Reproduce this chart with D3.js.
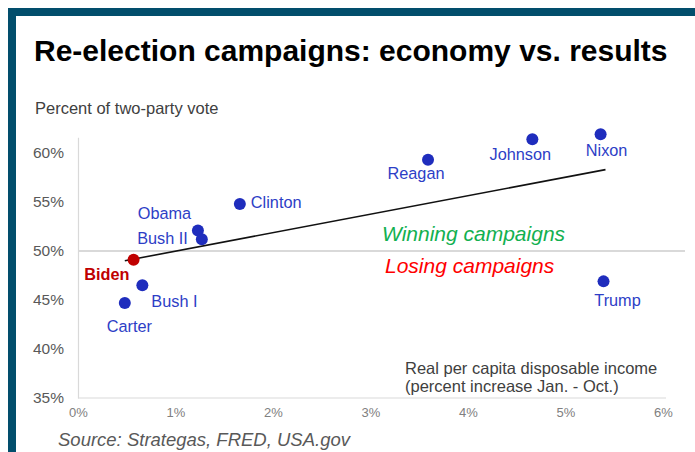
<!DOCTYPE html>
<html>
<head>
<meta charset="utf-8">
<script src="https://cdn.jsdelivr.net/npm/d3@7"></script>
<style>
  html, body { margin: 0; padding: 0; background: #ffffff; }
  svg { display: block; font-family: "Liberation Sans", Arial, sans-serif; }
</style>
</head>
<body>
<svg id="chart" width="695" height="452"></svg>
<script>
// Re-election campaigns: income growth in the election year vs. incumbent's share of the two-party vote
const candidates = ["Nixon", "Johnson", "Reagan", "Clinton", "Obama", "Bush II", "Biden", "Bush I", "Carter", "Trump"];
const incomeGrowth = [5.36, 4.66, 3.59, 1.66, 1.23, 1.27, 0.57, 0.66, 0.48, 5.39];   // % increase Jan.-Oct.
const voteShare    = [61.9, 61.4, 59.3, 54.8, 52.1, 51.2, 49.1, 46.5, 44.7, 46.9];   // % of two-party vote
const trendGrowth  = [0.48, 5.41];
const trendVote    = [49.0, 58.3];
const xTicks = [0, 1, 2, 3, 4, 5, 6];
const yTicks = [35, 40, 45, 50, 55, 60];
const threshold = 50;

// label placement relative to each dot
const labelLayout = {
  "Nixon":   { dx: 6,    dy: 16,   anchor: "middle" },
  "Johnson": { dx: -12,  dy: 15,   anchor: "middle" },
  "Reagan":  { dx: -12,  dy: 13.5, anchor: "middle" },
  "Clinton": { dx: 11,   dy: -2,   anchor: "start" },
  "Obama":   { dx: -33.5,dy: -17,  anchor: "middle" },
  "Bush II": { dx: -14,  dy: -1,   anchor: "end" },
  "Biden":   { dx: -4,   dy: 14.5, anchor: "end" },
  "Bush I":  { dx: 9,    dy: 16,   anchor: "start" },
  "Carter":  { dx: 4.5,  dy: 23,   anchor: "middle" },
  "Trump":   { dx: 14,   dy: 18.5, anchor: "middle" }
};

const svg = d3.select("#chart");
const W = 695, H = 452;
const frameColor = "#024e6c";
const dotBlue = "#1f2dbd", labelBlue = "#2d3ec6", bidenRed = "#c00000";

// frame bands
svg.append("rect").attr("x", 8).attr("y", 8).attr("width", W - 8).attr("height", 8).attr("fill", frameColor);
svg.append("rect").attr("x", 8).attr("y", 8).attr("width", 8).attr("height", H - 8).attr("fill", frameColor);

// title
svg.append("text")
  .attr("x", 34).attr("y", 61)
  .attr("font-size", 30).attr("font-weight", "bold").attr("fill", "#000")
  .text("Re-election campaigns: economy vs. results");

// y-axis heading
svg.append("text")
  .attr("x", 35).attr("y", 108.3).attr("dy", "0.35em")
  .attr("font-size", 16.5).attr("fill", "#404040")
  .text("Percent of two-party vote");

const x = d3.scaleLinear().domain([0, 6]).range([78, 663]);
const y = d3.scaleLinear().domain([35, 61.6]).range([398, 137.3]);

// y axis
const yAxis = svg.append("g").attr("transform", `translate(${x(0)},0)`)
  .call(d3.axisLeft(y).tickValues(yTicks).tickFormat(d => d + "%").tickSize(0).tickPadding(14));
yAxis.select(".domain").attr("stroke", "#d9d9d9").attr("stroke-width", 1.2);
yAxis.selectAll("text").attr("font-size", 15.5).attr("fill", "#595959").attr("font-family", "Liberation Sans, Arial, sans-serif");

// x axis
const xAxis = svg.append("g").attr("transform", `translate(0,${y(35)})`)
  .call(d3.axisBottom(x).tickValues(xTicks).tickFormat(d => d + "%").tickSize(0).tickPadding(10));
xAxis.select(".domain").attr("stroke", "#d9d9d9").attr("stroke-width", 1.2)
  .attr("d", `M${x(0)},0H${x(6) + 3}`);
xAxis.selectAll("text").attr("font-size", 13).attr("fill", "#808080").attr("font-family", "Liberation Sans, Arial, sans-serif");

// 50% threshold line
svg.append("line")
  .attr("x1", x(0)).attr("x2", x(6) + 22)
  .attr("y1", y(threshold)).attr("y2", y(threshold))
  .attr("stroke", "#d9d9d9").attr("stroke-width", 2.2);

svg.append("text")
  .attr("x", 382).attr("y", y(threshold) - 17).attr("dy", "0.35em")
  .attr("font-size", 21).attr("font-style", "italic").attr("fill", "#12b050")
  .text("Winning campaigns");
svg.append("text")
  .attr("x", 385).attr("y", y(threshold) + 14.5).attr("dy", "0.35em")
  .attr("font-size", 21).attr("font-style", "italic").attr("fill", "#ff0000")
  .text("Losing campaigns");

// x-axis description
const desc = svg.append("text").attr("font-size", 16.5).attr("fill", "#404040");
desc.append("tspan").attr("x", 405).attr("y", 368.3).attr("dy", "0.35em").text("Real per capita disposable income");
desc.append("tspan").attr("x", 405).attr("y", 386.7).attr("dy", "0.35em").text("(percent increase Jan. - Oct.)");

// trend line
svg.append("path")
  .datum(d3.zip(trendGrowth, trendVote))
  .attr("d", d3.line().x(d => x(d[0])).y(d => y(d[1])))
  .attr("fill", "none").attr("stroke", "#111").attr("stroke-width", 1.6);

// dots and labels
const points = candidates.map((name, i) => ({ name, gx: incomeGrowth[i], v: voteShare[i] }));

svg.append("g").selectAll("circle").data(points).join("circle")
  .attr("cx", d => x(d.gx)).attr("cy", d => y(d.v)).attr("r", 6)
  .attr("fill", d => d.name === "Biden" ? bidenRed : dotBlue);

svg.append("g").selectAll("text").data(points).join("text")
  .attr("x", d => x(d.gx) + labelLayout[d.name].dx)
  .attr("y", d => y(d.v) + labelLayout[d.name].dy)
  .attr("dy", "0.35em")
  .attr("text-anchor", d => labelLayout[d.name].anchor)
  .attr("font-size", 16.3)
  .attr("font-weight", d => d.name === "Biden" ? "bold" : "normal")
  .attr("fill", d => d.name === "Biden" ? bidenRed : labelBlue)
  .text(d => d.name);

// source line
svg.append("text")
  .attr("x", 58).attr("y", 439.5).attr("dy", "0.35em")
  .attr("font-size", 18.5).attr("font-style", "italic").attr("fill", "#595959")
  .text("Source: Strategas, FRED, USA.gov");
</script>
</body>
</html>
